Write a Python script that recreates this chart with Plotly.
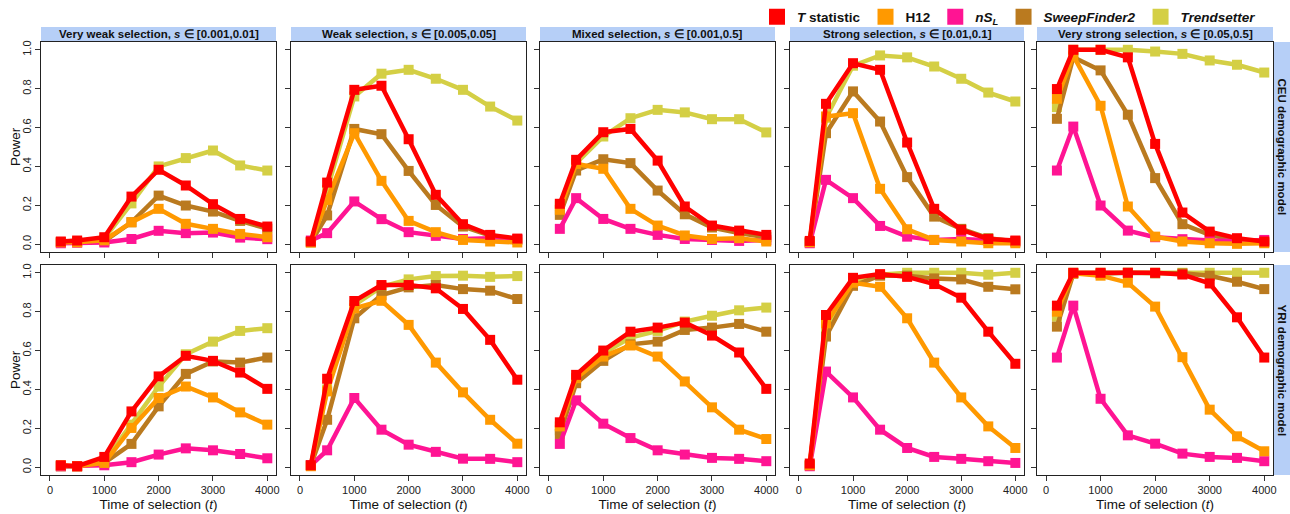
import plotly.graph_objects as go

times = [200, 500, 1000, 1500, 2000, 2500, 3000, 3500, 4000]

panel_titles = [
    "Very weak selection, <i>s</i> ∈ [0.001,0.01]",
    "Weak selection, <i>s</i> ∈ [0.005,0.05]",
    "Mixed selection, <i>s</i> ∈ [0.001,0.5]",
    "Strong selection, <i>s</i> ∈ [0.01,0.1]",
    "Very strong selection, <i>s</i> ∈ [0.05,0.5]",
]
row_labels = ["CEU demographic model", "YRI demographic model"]
x_ticks = [0, 1000, 2000, 3000, 4000]
y_ticks = [0.0, 0.2, 0.4, 0.6, 0.8, 1.0]
y_ticklabels = ["0.0", "0.2", "0.4", "0.6", "0.8", "1.0"]

# ---- CEU (top row), one list per selection regime ----
t_stat_ceu = [
    [0.014, 0.019, 0.036, 0.245, 0.383, 0.302, 0.206, 0.130, 0.091],
    [0.014, 0.317, 0.794, 0.815, 0.540, 0.254, 0.103, 0.048, 0.029],
    [0.208, 0.434, 0.576, 0.593, 0.430, 0.194, 0.096, 0.070, 0.048],
    [0.017, 0.722, 0.931, 0.897, 0.523, 0.182, 0.074, 0.027, 0.019],
    [0.798, 1.000, 1.000, 0.961, 0.516, 0.163, 0.065, 0.031, 0.014],
]
h12_ceu = [
    [0.010, 0.010, 0.020, 0.113, 0.182, 0.105, 0.079, 0.053, 0.036],
    [0.009, 0.228, 0.571, 0.326, 0.120, 0.062, 0.022, 0.014, 0.009],
    [0.177, 0.413, 0.388, 0.182, 0.096, 0.045, 0.027, 0.031, 0.014],
    [0.010, 0.657, 0.674, 0.285, 0.077, 0.022, 0.014, 0.005, 0.005],
    [0.748, 0.970, 0.712, 0.194, 0.039, 0.014, 0.005, 0.002, 0.005],
]
nsl_ceu = [
    [0.005, 0.008, 0.009, 0.027, 0.069, 0.057, 0.060, 0.034, 0.026],
    [0.019, 0.057, 0.220, 0.129, 0.062, 0.043, 0.027, 0.031, 0.027],
    [0.079, 0.237, 0.130, 0.079, 0.048, 0.027, 0.022, 0.017, 0.022],
    [0.005, 0.331, 0.237, 0.094, 0.039, 0.022, 0.027, 0.019, 0.014],
    [0.379, 0.605, 0.199, 0.070, 0.036, 0.026, 0.019, 0.017, 0.022],
]
sf2_ceu = [
    [0.010, 0.010, 0.015, 0.113, 0.250, 0.199, 0.168, 0.120, 0.080],
    [0.010, 0.148, 0.593, 0.566, 0.377, 0.202, 0.091, 0.045, 0.022],
    [0.151, 0.379, 0.437, 0.417, 0.276, 0.154, 0.086, 0.057, 0.036],
    [0.010, 0.571, 0.786, 0.631, 0.345, 0.142, 0.079, 0.031, 0.014],
    [0.645, 0.962, 0.894, 0.666, 0.340, 0.103, 0.048, 0.019, 0.010],
]
trend_ceu = [
    [0.010, 0.015, 0.030, 0.210, 0.400, 0.443, 0.482, 0.405, 0.379],
    [0.010, 0.280, 0.760, 0.877, 0.897, 0.851, 0.794, 0.708, 0.636],
    [0.200, 0.417, 0.554, 0.648, 0.691, 0.678, 0.643, 0.643, 0.575],
    [0.010, 0.650, 0.918, 0.971, 0.961, 0.914, 0.851, 0.780, 0.734],
    [0.705, 1.000, 1.000, 1.000, 0.991, 0.979, 0.945, 0.923, 0.883],
]

# ---- YRI (bottom row) ----
t_stat_yri = [
    [0.010, 0.005, 0.053, 0.287, 0.467, 0.573, 0.547, 0.487, 0.403],
    [0.010, 0.455, 0.855, 0.937, 0.937, 0.920, 0.814, 0.655, 0.450],
    [0.231, 0.475, 0.600, 0.697, 0.718, 0.744, 0.677, 0.590, 0.403],
    [0.019, 0.783, 0.974, 0.993, 0.979, 0.942, 0.872, 0.697, 0.532],
    [0.831, 1.000, 1.000, 1.000, 1.000, 0.991, 0.945, 0.771, 0.564],
]
h12_yri = [
    [0.010, 0.005, 0.022, 0.202, 0.356, 0.415, 0.359, 0.282, 0.219],
    [0.005, 0.390, 0.817, 0.856, 0.732, 0.538, 0.385, 0.244, 0.121],
    [0.210, 0.458, 0.569, 0.626, 0.569, 0.441, 0.308, 0.193, 0.145],
    [0.010, 0.740, 0.949, 0.928, 0.766, 0.538, 0.359, 0.210, 0.099],
    [0.800, 0.997, 0.985, 0.949, 0.826, 0.566, 0.296, 0.159, 0.082],
]
nsl_yri = [
    [0.005, 0.005, 0.010, 0.026, 0.065, 0.097, 0.087, 0.068, 0.046],
    [0.010, 0.087, 0.356, 0.193, 0.116, 0.079, 0.044, 0.043, 0.026],
    [0.120, 0.344, 0.224, 0.150, 0.087, 0.065, 0.048, 0.043, 0.031],
    [0.005, 0.492, 0.359, 0.193, 0.099, 0.053, 0.043, 0.031, 0.022],
    [0.564, 0.831, 0.352, 0.164, 0.121, 0.070, 0.053, 0.048, 0.031],
]
sf2_yri = [
    [0.005, 0.005, 0.022, 0.120, 0.313, 0.480, 0.544, 0.538, 0.564],
    [0.010, 0.244, 0.766, 0.885, 0.925, 0.937, 0.916, 0.908, 0.865],
    [0.171, 0.432, 0.547, 0.632, 0.646, 0.706, 0.718, 0.737, 0.697],
    [0.010, 0.672, 0.933, 0.985, 0.985, 0.971, 0.966, 0.928, 0.915],
    [0.723, 0.995, 0.995, 1.000, 0.997, 0.997, 0.985, 0.954, 0.916],
]
trend_yri = [
    [0.005, 0.005, 0.030, 0.219, 0.415, 0.581, 0.646, 0.701, 0.715],
    [0.010, 0.400, 0.834, 0.928, 0.966, 0.983, 0.985, 0.979, 0.983],
    [0.190, 0.450, 0.586, 0.667, 0.701, 0.749, 0.779, 0.807, 0.821],
    [0.010, 0.700, 0.960, 0.990, 1.000, 1.000, 1.000, 0.990, 1.000],
    [0.774, 1.000, 1.000, 1.000, 1.000, 1.000, 1.000, 1.000, 1.000],
]

methods = [
    # (legend label, colour, CEU data, YRI data)
    ("<b><i>T</i> statistic</b>", "#FF0000", t_stat_ceu, t_stat_yri),
    ("<b>H12</b>", "#FF9900", h12_ceu, h12_yri),
    ("<b><i>nS<sub>L</sub></i></b>", "#FF1493", nsl_ceu, nsl_yri),
    ("<b><i>SweepFinder2</i></b>", "#BA7A1F", sf2_ceu, sf2_yri),
    ("<b><i>Trendsetter</i></b>", "#D4CF45", trend_ceu, trend_yri),
]
draw_order = [4, 3, 2, 1, 0]

FONT = "Liberation Sans, Arial, Helvetica, sans-serif"
W, H = 1290, 514
ML, MR, MT, MB = 41, 17, 42, 39
PW, PH = W - ML - MR, H - MT - MB
col_px = [(41, 276), (291, 526), (540, 775), (790, 1024), (1037, 1273)]
row_px = [(42, 252), (265, 475)]
STRIP = "#B6CFF7"

def xf(px):
    return (px - ML) / PW

def yf(py):
    return (H - MB - py) / PH

fig = go.Figure()

# legend-only entries
for label, color, _, _ in methods:
    fig.add_trace(go.Scatter(x=[None], y=[None], mode="markers", name=label,
                             marker=dict(symbol="square", size=16, color=color),
                             showlegend=True))

layout = {}
for r in range(2):
    for c in range(5):
        k = r * 5 + c + 1
        xa = "x" if k == 1 else f"x{k}"
        ya = "y" if k == 1 else f"y{k}"
        for mi in draw_order:
            label, color, ceu, yri = methods[mi]
            vals = (ceu if r == 0 else yri)[c]
            fig.add_trace(go.Scatter(
                x=times, y=vals, mode="lines+markers", xaxis=xa, yaxis=ya,
                line=dict(color=color, width=4.5),
                marker=dict(symbol="square", size=10, color=color),
                showlegend=False, hoverinfo="x+y"))
        x0, x1 = col_px[c]
        y0, y1 = row_px[r]
        xdef = dict(
            domain=[xf(x0), xf(x1)], anchor=ya, range=[-165, 4160],
            tickvals=x_ticks, ticktext=[str(v) for v in x_ticks] if r == 1 else [""] * 5,
            ticks="outside", ticklen=5, tickwidth=1, tickcolor="#333",
            showline=True, linecolor="#222", linewidth=1, mirror=True,
            showgrid=False, zeroline=False, automargin=False,
            tickfont=dict(family=FONT, size=11, color="#222"),
        )
        if r == 1:
            xdef["title"] = dict(text="Time of selection (<i>t</i>)",
                                 font=dict(family=FONT, size=13.5, color="#111"), standoff=4)
        ydef = dict(
            domain=[yf(y1), yf(y0)], anchor=xa, range=[-0.04, 1.04],
            tickvals=y_ticks, ticktext=y_ticklabels if c == 0 else [""] * 6,
            tickangle=-90,
            ticks="outside", ticklen=5, tickwidth=1, tickcolor="#333",
            showline=True, linecolor="#222", linewidth=1, mirror=True,
            showgrid=False, zeroline=False, automargin=False,
            tickfont=dict(family=FONT, size=11, color="#222"),
        )
        layout["xaxis" if k == 1 else f"xaxis{k}"] = xdef
        layout["yaxis" if k == 1 else f"yaxis{k}"] = ydef

shapes = []
annotations = []
for c in range(5):
    x0, x1 = col_px[c]
    shapes.append(dict(type="rect", xref="paper", yref="paper",
                       x0=xf(x0), x1=xf(x1), y0=yf(42), y1=yf(27),
                       fillcolor=STRIP, line=dict(width=0), layer="below"))
    annotations.append(dict(xref="paper", yref="paper", x=(xf(x0) + xf(x1)) / 2,
                            y=(yf(42) + yf(27)) / 2, text="<b>" + panel_titles[c] + "</b>",
                            showarrow=False, xanchor="center", yanchor="middle",
                            font=dict(family=FONT, size=11.5, color="#111")))
for r in range(2):
    y0, y1 = row_px[r]
    shapes.append(dict(type="rect", xref="paper", yref="paper",
                       x0=xf(1273), x1=xf(1290), y0=yf(y1), y1=yf(y0),
                       fillcolor=STRIP, line=dict(width=0), layer="below"))
    annotations.append(dict(xref="paper", yref="paper", x=xf(1281.5),
                            y=(yf(y0) + yf(y1)) / 2, text="<b>" + row_labels[r] + "</b>",
                            textangle=90, showarrow=False, xanchor="center", yanchor="middle",
                            font=dict(family=FONT, size=11.5, color="#111")))
    # y-axis title "Power" for each row
    annotations.append(dict(xref="paper", yref="paper", x=xf(15),
                            y=(yf(y0) + yf(y1)) / 2, text="Power",
                            textangle=-90, showarrow=False, xanchor="center", yanchor="middle",
                            font=dict(family=FONT, size=13.5, color="#111")))

fig.update_layout(
    width=W, height=H,
    margin=dict(l=ML, r=MR, t=MT, b=MB, pad=0, autoexpand=False),
    paper_bgcolor="white", plot_bgcolor="white",
    font=dict(family=FONT, color="#111"),
    showlegend=True,
    legend=dict(orientation="h", xref="container", yref="container",
                x=757 / W, y=1 - 17 / H, xanchor="left", yanchor="middle",
                font=dict(family=FONT, size=13.5, color="#111"),
                bgcolor="rgba(0,0,0,0)", itemsizing="trace", tracegroupgap=0),
    shapes=shapes, annotations=annotations,
    **layout,
)

fig.write_html("out.html", config={"displayModeBar": False},
               post_script="document.body.style.margin='0px';document.body.style.overflow='hidden';")
